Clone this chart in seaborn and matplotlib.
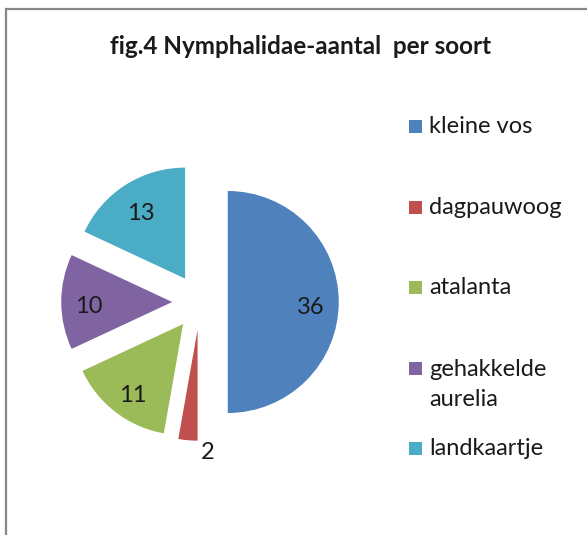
import matplotlib.pyplot as plt
import seaborn as sns
from matplotlib.patches import Rectangle
from matplotlib.transforms import ScaledTranslation
import numpy as np

# gegevens
soorten = ['kleine vos', 'dagpauwoog', 'atalanta', 'gehakkelde\naurelia', 'landkaartje']
aantallen = [36, 2, 11, 10, 13]
kleuren = ['#4F81BD', '#C0504D', '#9BBB59', '#8064A2', '#4BACC6']

sns.set_theme(style="white")
plt.rcParams['font.family'] = ['Lato', 'DejaVu Sans']

W, H = 587, 535
fig = plt.figure(figsize=(W / 100, H / 100), dpi=100)

# grijze kader (alleen links en boven zichtbaar)
fig.patches.append(Rectangle((6 / W, -0.1), 1.2, 1 - 9 / H + 0.1, transform=fig.transFigure,
                             fill=False, edgecolor='#878787', linewidth=1.6, zorder=0))

ax = fig.add_axes([0, 0, 1, 1])
ax.set_facecolor('none')

wedges, texts, autotexts = ax.pie(
    aantallen,
    colors=kleuren,
    startangle=90,
    counterclock=False,
    explode=[0.25] * len(aantallen),
    autopct=lambda p: '{:.0f}'.format(p * sum(aantallen) / 100),
    pctdistance=0.75,
    textprops={'fontsize': 17, 'color': '#1a1a1a'},
    wedgeprops={'linewidth': 0},
)

omlaag = ScaledTranslation(0, -3 / 100, fig.dpi_scale_trans)
for w, t, v in zip(wedges, autotexts, aantallen):
    t.set_va('center_baseline')
    t.set_transform(t.get_transform() + omlaag)
    # kleine waarde buiten de punt plaatsen
    if v < 5:
        hoek = np.deg2rad((w.theta1 + w.theta2) / 2 + 10)
        cx, cy = w.center
        t.set_position((cx + 1.07 * np.cos(hoek), cy + 1.07 * np.sin(hoek)))

# schaal: 111 px per straal, middelpunt op (200, 302)
ax.set_xlim(-200 / 111, (W - 200) / 111)
ax.set_ylim((302 - H) / 111, 302 / 111)
ax.set_aspect('auto')
ax.axis('off')

fig.text(301 / W, 1 - 47 / H, 'fig.4 Nymphalidae-aantal  per soort', ha='center', va='center',
         fontsize=17.5, fontweight='bold', color='#1a1a1a')

# legenda: vierkantje op de eerste regel van elke naam
for i, (naam, kleur) in enumerate(zip(soorten, kleuren)):
    ym = 126 + 80.5 * i
    extra = 32 * naam.count('\n')  # basislijn van de laatste regel
    fig.patches.append(Rectangle((409 / W, 1 - (ym + 7) / H), 13 / W, 13 / H,
                                 transform=fig.transFigure, facecolor=kleur, edgecolor='none'))
    fig.text(429 / W, 1 - (ym + 7 + extra) / H, naam, ha='left', va='baseline', fontsize=17,
             color='#1a1a1a', linespacing=1.57)

plt.savefig('out.png', dpi=100)
